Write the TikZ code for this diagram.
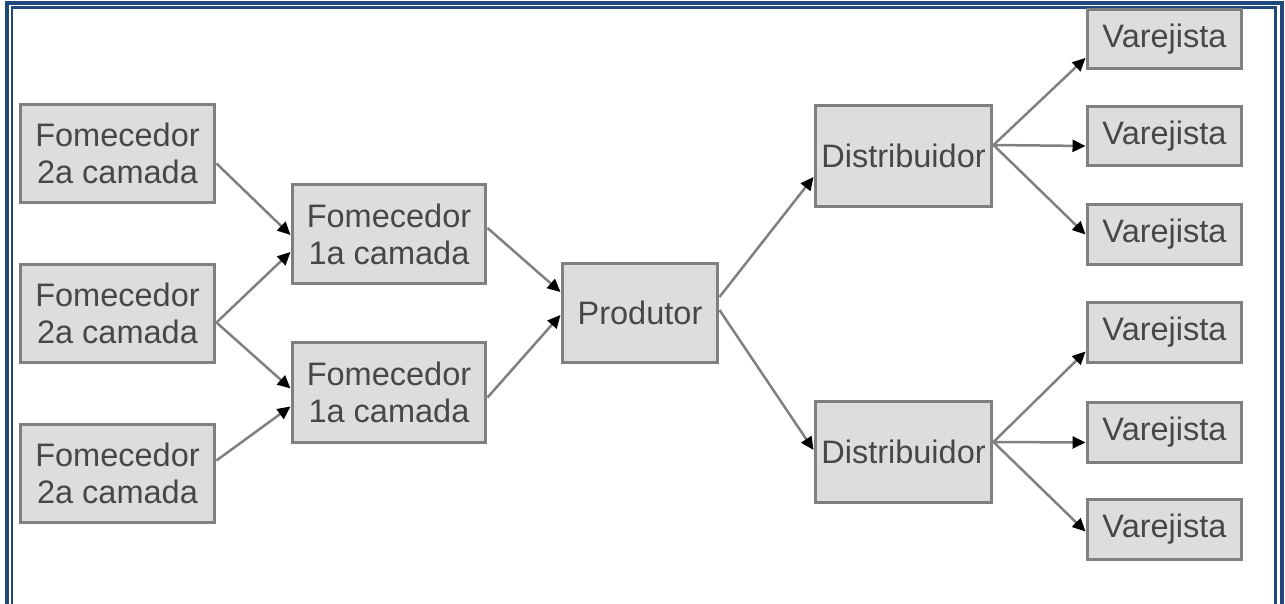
\documentclass[tikz,border=0pt]{standalone}
\usepackage{fontspec}
\setmainfont{Liberation Sans}
\usetikzlibrary{arrows.meta, calc}
\definecolor{frameblue}{RGB}{31,73,125}
\definecolor{boxgray}{RGB}{221,221,221}
\definecolor{edgegray}{RGB}{128,128,128}

\begin{document}
\begin{tikzpicture}[
            x=0.02cm, y=-0.02cm,
            box/.style={draw=edgegray, line width=0.06cm, fill=boxgray, align=center, inner sep=0pt,
                        text=black!72, font=\fontsize{18.5}{21}\selectfont},
            forn/.style={box, minimum width=3.9cm, minimum height=1.96cm},
            prod/.style={box, minimum width=3.12cm, minimum height=2cm},
            dist/.style={box, minimum width=3.54cm, minimum height=2.02cm},
            varj/.style={box, minimum width=3.1cm, minimum height=1.2cm},
            flow/.style={draw=edgegray, line width=0.05cm, -{Triangle[length=0.26cm, width=0.24cm, color=black]}}
        ]
            \useasboundingbox (0,0) rectangle (1285,604);

            % moldura dupla
            \draw[frameblue, line width=0.08cm] (7,604) -- (7,2.8) -- (1282,2.8) -- (1282,604);
            \draw[frameblue, line width=0.05cm] (12,604) -- (12,7.5) -- (1275.5,7.5) -- (1275.5,604);

            % fornecedores
            \node[forn] (f2a) at (117.5,153.5) {Fomecedor\\2a camada};
            \node[forn] (f2b) at (117.5,313.5) {Fomecedor\\2a camada};
            \node[forn] (f2c) at (117.5,473.5) {Fomecedor\\2a camada};
            \node[forn, minimum width=3.88cm, minimum height=2cm] (f1a) at (389,234) {Fomecedor\\1a camada};
            \node[forn, minimum width=3.88cm, minimum height=2cm] (f1b) at (389,392.5) {Fomecedor\\1a camada};

            % produtor e distribuidores
            \node[prod] (prd) at (640,313) {Produtor};
            \node[dist] (dst1) at (903.5,156) {Distribuidor};
            \node[dist] (dst2) at (903.5,452) {Distribuidor};

            % varejistas
            \node[varj] (var1) at (1164.5,39) {Varejista};
            \node[varj] (var2) at (1164.5,136) {Varejista};
            \node[varj] (var3) at (1164.5,234.5) {Varejista};
            \node[varj] (var4) at (1164.5,332.5) {Varejista};
            \node[varj] (var5) at (1164.5,432.5) {Varejista};
            \node[varj] (var6) at (1164.5,529.5) {Varejista};

            \draw[flow] ($(f2a.east)+(0,10)$) -- ($(f1a.west)+(0,1)$);
            \draw[flow] ($(f2b.east)+(0,9)$) -- ($(f1a.west)+(0,18)$);
            \draw[flow] ($(f2b.east)+(0,9)$) -- ($(f1b.west)+(0,-4)$);
            \draw[flow] ($(f2c.east)+(0,-13)$) -- ($(f1b.west)+(0,14)$);

            \draw[flow] ($(f1a.east)+(0,-6)$) -- ($(prd.west)+(0,-21)$);
            \draw[flow] ($(f1b.east)+(0,5)$) -- ($(prd.west)+(0,2)$);

            \draw[flow] ($(prd.east)+(0,-16)$) -- ($(dst1.west)+(0,21)$);
            \draw[flow] ($(prd.east)+(0,-3)$) -- ($(dst2.west)+(0,-2)$);

            \draw[flow] ($(dst1.east)+(0,-11)$) -- ($(var1.west)+(0,19)$);
            \draw[flow] ($(dst1.east)+(0,-11)$) -- ($(var2.west)+(0,10)$);
            \draw[flow] ($(dst1.east)+(0,-11)$) -- ($(var3.west)+(0,0)$);
            \draw[flow] ($(dst2.east)+(0,-10)$) -- ($(var4.west)+(0,19)$);
            \draw[flow] ($(dst2.east)+(0,-10)$) -- ($(var5.west)+(0,10)$);
            \draw[flow] ($(dst2.east)+(0,-10)$) -- ($(var6.west)+(0,2)$);
        \end{tikzpicture}
\end{document}
